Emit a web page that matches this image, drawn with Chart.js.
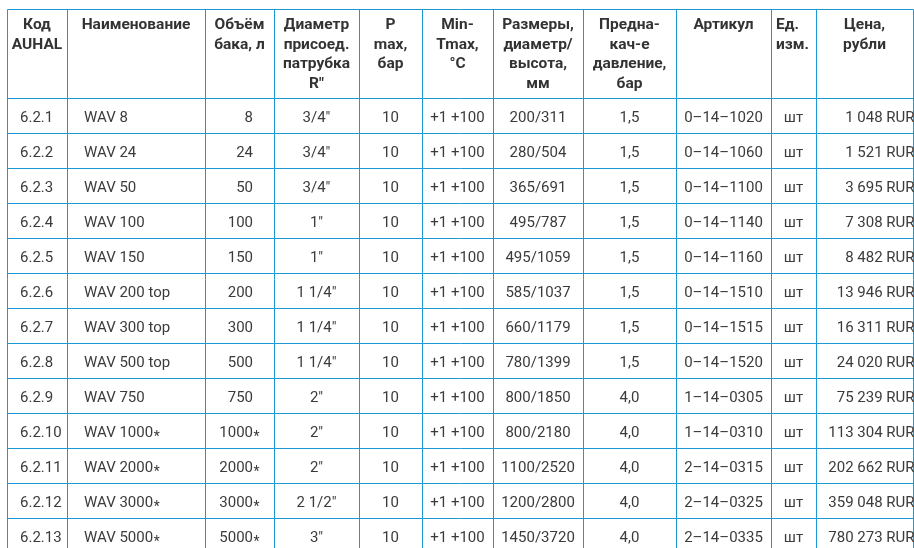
<!DOCTYPE html>
<html>
<head>
<meta charset="utf-8">
<script src="https://cdn.jsdelivr.net/npm/chart.js@4.4.1/dist/chart.umd.min.js"></script>
<style>
  html, body { margin: 0; padding: 0; background: #ffffff; }
  #table { display: block; }
</style>
</head>
<body>
<canvas id="table" width="914" height="548"></canvas>
<script>
// table contents, one array per column
const headers = [
    ['Код', 'AUHAL'],
    ['Наименование'],
    ['Объём', 'бака, л'],
    ['Диаметр', 'присоед.', 'патрубка', 'R"'],
    ['P', 'max,', 'бар'],
    ['Min-', 'Tmax,', '°C'],
    ['Размеры,', 'диаметр/', 'высота,', 'мм'],
    ['Предна-', 'кач-е', 'давление,', 'бар'],
    ['Артикул'],
    ['Ед.', 'изм.'],
    ['Цена,', 'рубли']
];

const codes = ['6.2.1', '6.2.2', '6.2.3', '6.2.4', '6.2.5', '6.2.6', '6.2.7',
               '6.2.8', '6.2.9', '6.2.10', '6.2.11', '6.2.12', '6.2.13'];
const names = ['WAV 8', 'WAV 24', 'WAV 50', 'WAV 100', 'WAV 150', 'WAV 200 top',
               'WAV 300 top', 'WAV 500 top', 'WAV 750', 'WAV 1000*', 'WAV 2000*',
               'WAV 3000*', 'WAV 5000*'];
const volumes = ['8', '24', '50', '100', '150', '200', '300', '500', '750',
                 '1000*', '2000*', '3000*', '5000*'];
const connections = ['3/4"', '3/4"', '3/4"', '1"', '1"', '1 1/4"', '1 1/4"',
                     '1 1/4"', '2"', '2"', '2"', '2 1/2"', '3"'];
const pMax = ['10', '10', '10', '10', '10', '10', '10', '10', '10', '10', '10', '10', '10'];
const tRange = ['+1 +100', '+1 +100', '+1 +100', '+1 +100', '+1 +100', '+1 +100', '+1 +100',
                '+1 +100', '+1 +100', '+1 +100', '+1 +100', '+1 +100', '+1 +100'];
const sizes = ['200/311', '280/504', '365/691', '495/787', '495/1059', '585/1037',
               '660/1179', '780/1399', '800/1850', '800/2180', '1100/2520',
               '1200/2800', '1450/3720'];
const preCharge = ['1,5', '1,5', '1,5', '1,5', '1,5', '1,5', '1,5', '1,5',
                   '4,0', '4,0', '4,0', '4,0', '4,0'];
const articles = ['0–14–1020', '0–14–1060', '0–14–1100', '0–14–1140', '0–14–1160',
                  '0–14–1510', '0–14–1515', '0–14–1520', '1–14–0305', '1–14–0310',
                  '2–14–0315', '2–14–0325', '2–14–0335'];
const units = ['шт', 'шт', 'шт', 'шт', 'шт', 'шт', 'шт', 'шт', 'шт', 'шт', 'шт', 'шт', 'шт'];
const prices = ['1 048 RUR', '1 521 RUR', '3 695 RUR', '7 308 RUR', '8 482 RUR',
                '13 946 RUR', '16 311 RUR', '24 020 RUR', '75 239 RUR', '113 304 RUR',
                '202 662 RUR', '359 048 RUR', '780 273 RUR'];

const columns = [codes, names, volumes, connections, pMax, tRange, sizes,
                 preCharge, articles, units, prices];

// layout: column edges on the x scale, row bands on the y scale
const colEdges = [7, 67, 205, 274, 359, 422, 493, 583, 676, 771, 816, 913];
const colAlign = ['left', 'left', 'right', 'center', 'center', 'center', 'center',
                  'center', 'center', 'center', 'right'];
const colPad = [13, 17, 21, 0, 0, 0, 0, 0, 0, 0, -1.5];
const headAlign = ['center', 'center', 'center', 'center', 'center', 'center', 'center',
                   'center', 'center', 'left', 'center'];
const headTop = -2.526;        // header top border, in row units

const lineColor = '#1c9ad6';
const headColor = '#333333';
const textColor = '#3b3b3b';

const tablePlugin = {
    id: 'tablePlugin',
    afterDraw(chart) {
        const ctx = chart.ctx;
        const x = chart.scales.x;
        const y = chart.scales.y;
        const px = v => Math.round(x.getPixelForValue(v)) + 0.5;
        const py = v => Math.round(y.getPixelForValue(v)) + 0.5;
        const nRows = codes.length;
        ctx.save();

        // grid
        ctx.strokeStyle = lineColor;
        ctx.lineWidth = 1;
        ctx.beginPath();
        const left = px(colEdges[0]);
        const right = px(colEdges[colEdges.length - 1]);
        [headTop].concat(codes.map((c, i) => i)).forEach(r => {
            ctx.moveTo(left, py(r));
            ctx.lineTo(right, py(r));
        });
        colEdges.forEach(e => {
            ctx.moveTo(px(e), py(headTop));
            ctx.lineTo(px(e), py(nRows));
        });
        ctx.stroke();

        // header
        const headerY = y.getPixelForValue(headTop);
        ctx.fillStyle = headColor;
        ctx.font = 'bold 15.5px Roboto';
        ctx.textBaseline = 'alphabetic';
        headers.forEach((lines, c) => {
            const l = x.getPixelForValue(colEdges[c]);
            const r = x.getPixelForValue(colEdges[c + 1]);
            lines.forEach((t, k) => {
                const by = headerY + 20 + k * 19.6;
                if (headAlign[c] === 'left') {
                    ctx.textAlign = 'left';
                    ctx.fillText(t, l + 5, by);
                } else {
                    ctx.textAlign = 'center';
                    ctx.fillText(t, (l + r) / 2, by);
                }
            });
        });

        // body cells
        ctx.fillStyle = textColor;
        columns.forEach((col, c) => {
            const l = x.getPixelForValue(colEdges[c]);
            const r = x.getPixelForValue(colEdges[c + 1]);
            col.forEach((val, i) => {
                const by = y.getPixelForValue(i + 0.5) + 7;
                const star = val.endsWith('*');
                const main = star ? val.slice(0, -1) : val;
                ctx.font = '15px Roboto';
                const w = ctx.measureText(main).width;
                let sx;
                if (colAlign[c] === 'left') sx = l + colPad[c];
                else if (colAlign[c] === 'right') sx = r - colPad[c] - w;
                else sx = (l + r) / 2 - w / 2;
                ctx.textAlign = 'left';
                ctx.fillText(main, sx, by);
                if (star) {
                    ctx.font = '14px Roboto';
                    ctx.fillText('*', sx + w + 0.5, by + 3.5);
                }
            });
        });
        ctx.restore();
    }
};

function createTable() {
    const canvas = document.getElementById('table');
    new Chart(canvas, {
        type: 'scatter',
        data: { datasets: [] },
        options: {
            responsive: false,
            devicePixelRatio: 1,
            animation: false,
            layout: { padding: 0 },
            scales: {
                x: { type: 'linear', min: 0, max: 914, display: false },
                y: { type: 'linear', min: -2.791, max: 12.866, reverse: true, display: false }
            },
            plugins: {
                legend: { display: false },
                tooltip: { enabled: false }
            }
        },
        plugins: [tablePlugin]
    });
}

Promise.all([
    document.fonts.load('15px Roboto'),
    document.fonts.load('bold 15px Roboto')
]).then(createTable, createTable);
</script>
</body>
</html>
